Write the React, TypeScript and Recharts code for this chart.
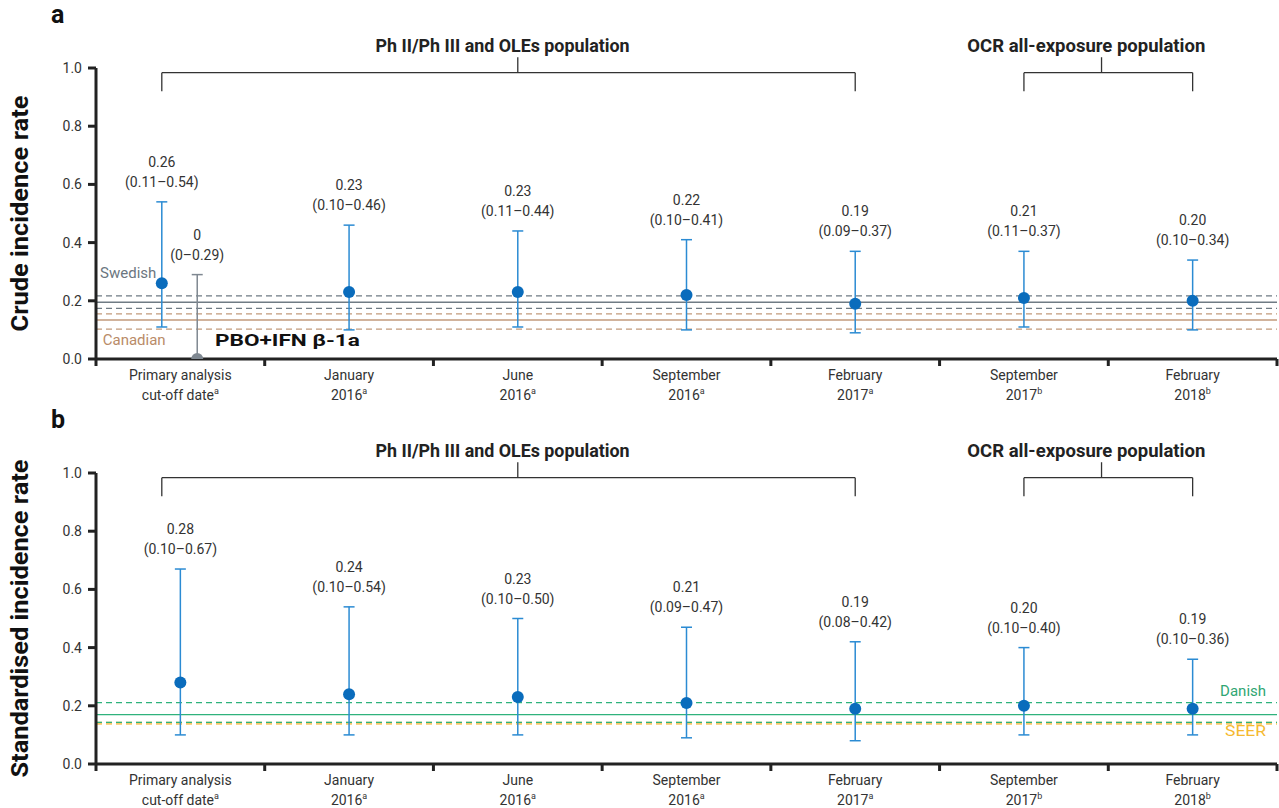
import React from "react";
import {
  ComposedChart,
  Scatter,
  ErrorBar,
  XAxis,
  YAxis,
  ReferenceLine,
  ReferenceDot,
} from "recharts";

const FONT = "Roboto, 'Noto Sans', sans-serif";

// x-axis categories (two text lines + superscript footnote)
const categories = ["Primary analysis", "January", "June", "September", "February", "September", "February"];
const categorySub = ["cut-off date", "2016", "2016", "2016", "2017", "2017", "2018"];
const categorySup = ["a", "a", "a", "a", "a", "b", "b"];

// panel a: crude incidence rate (category position, estimate, 95% CI)
const crudeX = [0.39, 1.5, 2.5, 3.5, 4.5, 5.5, 6.5];
const crudeRate = [0.26, 0.23, 0.23, 0.22, 0.19, 0.21, 0.2];
const crudeLow = [0.11, 0.1, 0.11, 0.1, 0.09, 0.11, 0.1];
const crudeHigh = [0.54, 0.46, 0.44, 0.41, 0.37, 0.37, 0.34];

// PBO + IFN beta-1a comparator
const pboX = [0.6];
const pboRate = [0];
const pboLow = [0];
const pboHigh = [0.29];

// panel b: standardised incidence rate
const stdX = [0.5, 1.5, 2.5, 3.5, 4.5, 5.5, 6.5];
const stdRate = [0.28, 0.24, 0.23, 0.21, 0.19, 0.2, 0.19];
const stdLow = [0.1, 0.1, 0.1, 0.09, 0.08, 0.1, 0.1];
const stdHigh = [0.67, 0.54, 0.5, 0.47, 0.42, 0.4, 0.36];

// registry reference rates: [lower CI, estimate, upper CI]
const swedishRef = [0.174, 0.195, 0.217];
const canadianRef = [0.103, 0.134, 0.155];
const danishRef = [0.143, 0.17, 0.211];
const seerRef = [0.14];

// population brackets: [left, stem, right]
const phBracket = [0.39, 2.5, 4.5];
const ocrBracket = [5.5, 5.96, 6.5];

const yTicks = [0, 0.2, 0.4, 0.6, 0.8, 1];
const xTicks = Array.from({ length: 15 }, (_, i) => i * 0.5);

const fmt = (v: number) => (v === 0 ? "0" : v.toFixed(2));

function makeRows(xs: number[], rate: number[], low: number[], high: number[]) {
  return xs.map((x, i) => ({
    x,
    y: rate[i],
    err: [rate[i] - low[i], high[i] - rate[i]],
  }));
}

function makeLabels(xs: number[], rate: number[], low: number[], high: number[]) {
  return xs.map((x, i) => ({
    x,
    y: high[i],
    t1: fmt(rate[i]),
    t2: `(${fmt(low[i])}–${fmt(high[i])})`,
  }));
}

function CategoryTick(props: any) {
  const { x, y, payload } = props;
  const v = payload.value;
  if (Number.isInteger(v)) {
    return <line x1={x} x2={x} y1={y} y2={y + 7} stroke="#222" strokeWidth={3} />;
  }
  const i = Math.floor(v);
  return (
    <text textAnchor="middle" fontFamily={FONT} fontSize={14} fill="#333">
      <tspan x={x} y={y + 21}>{categories[i]}</tspan>
      <tspan x={x} y={y + 41}>
        {categorySub[i]}
        <tspan fontSize={9} dy={-6}>{categorySup[i]}</tspan>
      </tspan>
    </text>
  );
}

function YTitle(props: any) {
  const { viewBox, text, len } = props;
  const cx = viewBox.x + 20;
  const cy = viewBox.y + viewBox.height / 2;
  return (
    <text
      transform={`translate(${cx},${cy}) rotate(-90)`}
      textAnchor="middle"
      dominantBaseline="central"
      fontFamily={FONT}
      fontWeight={700}
      fontSize={23}
      textLength={len}
      lengthAdjust="spacingAndGlyphs"
      fill="#111"
    >
      {text}
    </text>
  );
}

function Anno(props: any) {
  const { viewBox, text, color, anchor, bold, size, len } = props;
  return (
    <text
      x={viewBox.x}
      y={viewBox.y}
      textAnchor={anchor}
      dominantBaseline="central"
      fontFamily={FONT}
      fontSize={size || 15}
      fontWeight={bold ? 700 : 400}
      textLength={len}
      lengthAdjust={len ? "spacingAndGlyphs" : undefined}
      fill={color}
    >
      {text}
    </text>
  );
}

const dotShape = (color: string) => (p: any) => <circle cx={p.cx} cy={p.cy} r={6} fill={color} />;

const labelShape = (p: any) => (
  <g fontFamily={FONT} fontSize={14} fill="#333" textAnchor="middle">
    <text x={p.cx} y={p.cy - 35}>{p.payload.t1}</text>
    <text x={p.cx} y={p.cy - 15}>{p.payload.t2}</text>
  </g>
);

function refLines(vals: number[], color: string, solidIdx: number, width = 1.3) {
  return vals.map((v, i) => (
    <ReferenceLine
      key={color + i}
      y={v}
      stroke={color}
      strokeWidth={width}
      strokeDasharray={i === solidIdx ? undefined : "6 4"}
    />
  ));
}

function bracket(b: number[], labelX: number, text: string, len: number) {
  const top = 0.984;
  const foot = 0.92;
  const stem = 1.037;
  const st = { stroke: "#333", strokeWidth: 1.3, ifOverflow: "visible" as const };
  return [
    <ReferenceLine key={text + "h"} segment={[{ x: b[0], y: top }, { x: b[2], y: top }]} {...st} />,
    <ReferenceLine key={text + "l"} segment={[{ x: b[0], y: top }, { x: b[0], y: foot }]} {...st} />,
    <ReferenceLine key={text + "r"} segment={[{ x: b[2], y: top }, { x: b[2], y: foot }]} {...st} />,
    <ReferenceLine key={text + "s"} segment={[{ x: b[1], y: top }, { x: b[1], y: stem }]} {...st} />,
    <ReferenceDot
      key={text + "t"}
      x={labelX}
      y={1.076}
      r={0}
      fill="none"
      stroke="none"
      ifOverflow="visible"
      label={<Anno text={text} color="#222" anchor="middle" bold size={18} len={len} />}
    />,
  ];
}

function axes(height: number, title: string, len: number) {
  return [
    <XAxis
      key="x"
      type="number"
      dataKey="x"
      domain={[0, 7]}
      ticks={xTicks}
      interval={0}
      allowDataOverflow
      height={height}
      tickSize={0}
      tickMargin={0}
      tickLine={false}
      axisLine={{ stroke: "#222", strokeWidth: 3 }}
      tick={<CategoryTick />}
    />,
    <YAxis
      key="y"
      type="number"
      dataKey="y"
      domain={[0, 1]}
      ticks={yTicks}
      allowDataOverflow
      width={96}
      tickSize={8}
      tickMargin={6}
      tickFormatter={(v: number) => v.toFixed(1)}
      tick={{ fill: "#333", fontSize: 14, fontFamily: FONT }}
      tickLine={{ stroke: "#222", strokeWidth: 3 }}
      axisLine={{ stroke: "#222", strokeWidth: 3 }}
      label={<YTitle text={title} len={len} />}
    />,
  ];
}

function PanelA() {
  return (
    <ComposedChart width={1279} height={405} margin={{ top: 68, right: 2, bottom: 0, left: 0 }}>
      {axes(46, "Crude incidence rate", 236)}
      {refLines(swedishRef, "#6f7b84", 1)}
      {refLines(canadianRef, "#c29a7b", 1)}
      {bracket(phBracket, 2.41, "Ph II/Ph III and OLEs population", 254)}
      {bracket(ocrBracket, 5.87, "OCR all-exposure population", 238)}
      <ReferenceDot x={0.024} y={0.294} r={0} fill="none" stroke="none" ifOverflow="visible"
        label={<Anno text="Swedish" color="#6b7680" anchor="start" />} />
      <ReferenceDot x={0.04} y={0.064} r={0} fill="none" stroke="none" ifOverflow="visible"
        label={<Anno text="Canadian" color="#b98b68" anchor="start" />} />
      <ReferenceDot x={0.705} y={0.064} r={0} fill="none" stroke="none" ifOverflow="visible"
        label={<Anno text="PBO+IFN β-1a" color="#111" anchor="start" bold size={17} len={145} />} />
      <Scatter data={makeRows(pboX, pboRate, pboLow, pboHigh)} isAnimationActive={false} shape={dotShape("#7f8891")}>
        <ErrorBar dataKey="err" direction="y" width={5.5} stroke="#7f8891" strokeWidth={1.5} />
      </Scatter>
      <Scatter data={makeRows(crudeX, crudeRate, crudeLow, crudeHigh)} isAnimationActive={false} shape={dotShape("#0a6cbc")}>
        <ErrorBar dataKey="err" direction="y" width={5.5} stroke="#2b8bd3" strokeWidth={1.5} />
      </Scatter>
      <Scatter data={makeLabels(crudeX, crudeRate, crudeLow, crudeHigh)} isAnimationActive={false} shape={labelShape} />
      <Scatter data={makeLabels(pboX, pboRate, pboLow, pboHigh)} isAnimationActive={false} shape={labelShape} />
    </ComposedChart>
  );
}

function PanelB() {
  return (
    <ComposedChart width={1279} height={403} margin={{ top: 68, right: 2, bottom: 0, left: 0 }}>
      {axes(44, "Standardised incidence rate", 318)}
      {refLines(seerRef, "#f8c868", -1, 3)}
      {refLines(danishRef, "#2fb27c", 1)}
      {bracket(phBracket, 2.41, "Ph II/Ph III and OLEs population", 254)}
      {bracket(ocrBracket, 5.87, "OCR all-exposure population", 238)}
      <ReferenceDot x={6.935} y={0.251} r={0} fill="none" stroke="none" ifOverflow="visible"
        label={<Anno text="Danish" color="#2fa673" anchor="end" />} />
      <ReferenceDot x={6.935} y={0.113} r={0} fill="none" stroke="none" ifOverflow="visible"
        label={<Anno text="SEER" color="#f5b930" anchor="end" len={41} />} />
      <Scatter data={makeRows(stdX, stdRate, stdLow, stdHigh)} isAnimationActive={false} shape={dotShape("#0a6cbc")}>
        <ErrorBar dataKey="err" direction="y" width={5.5} stroke="#2b8bd3" strokeWidth={1.5} />
      </Scatter>
      <Scatter data={makeLabels(stdX, stdRate, stdLow, stdHigh)} isAnimationActive={false} shape={labelShape} />
    </ComposedChart>
  );
}

const letterStyle: React.CSSProperties = {
  position: "absolute",
  left: 51,
  fontFamily: FONT,
  fontWeight: 700,
  fontSize: 25,
  lineHeight: "24px",
  color: "#111",
};

export default function App() {
  return (
    <div style={{ position: "relative", width: 1279, height: 808, background: "#fff" }}>
      <style>{"body{margin:0}"}</style>
      <PanelA />
      <PanelB />
      <div style={{ ...letterStyle, top: 3 }}>a</div>
      <div style={{ ...letterStyle, top: 408 }}>b</div>
    </div>
  );
}
